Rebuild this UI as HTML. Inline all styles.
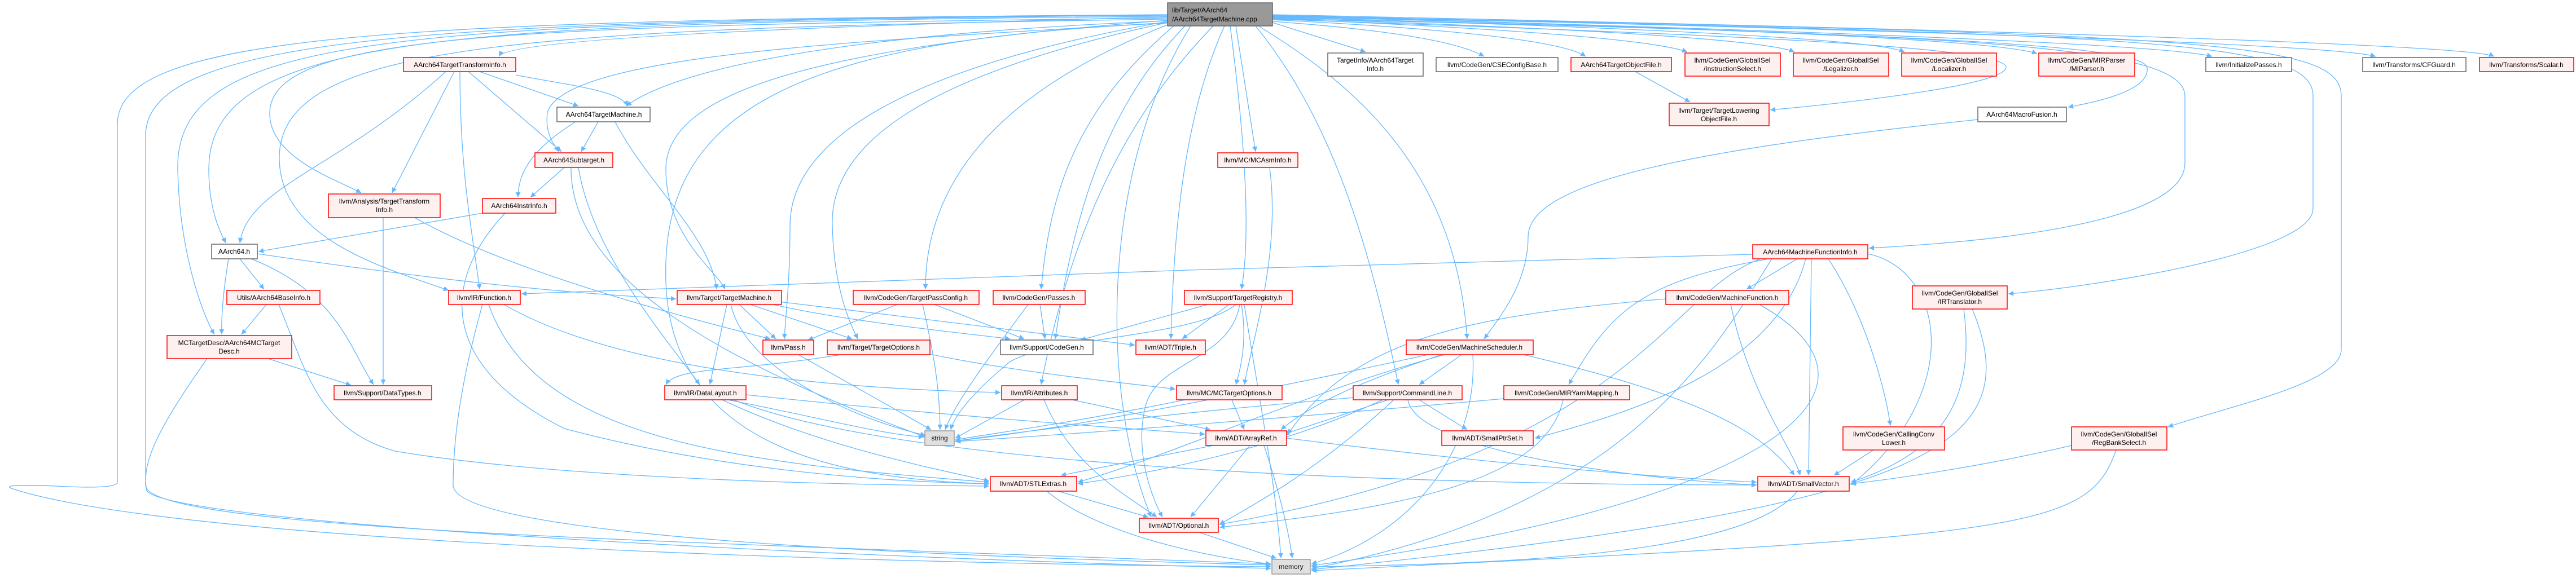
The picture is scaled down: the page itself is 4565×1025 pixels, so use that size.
<!DOCTYPE html>
<html><head><meta charset="utf-8"><style>
html,body{margin:0;padding:0;background:#fff;}
svg{display:block;}
text{font-family:"Liberation Sans",Arial,sans-serif;font-size:12px;fill:#000;text-anchor:middle;}
.r{fill:#fff0f0;stroke:#f00;stroke-width:1.5;}
.g{fill:#fff;stroke:#666;stroke-width:1.5;}
.s{fill:#e0e0e0;stroke:#999;stroke-width:1.5;}
.e path{fill:none;stroke:#63b8ff;stroke-width:1.3;}
</style></head><body>
<svg width="4565" height="1025" viewBox="0 0 4565 1025" xmlns="http://www.w3.org/2000/svg">
<defs><marker id="a" viewBox="0 0 10 10" refX="10" refY="5" markerWidth="10" markerHeight="9" markerUnits="userSpaceOnUse" orient="auto"><path d="M0,0L10,5L0,10z" fill="#63b8ff"/></marker></defs>
<g class="e" marker-end="url(#a)">
<!-- main to left -->
<path marker-end="url(#a)" d="M2069,30 Q900,60 885,100"/>
<path marker-end="url(#a)" d="M2069,37 C1500,60 1200,120 1110,188"/>
<path marker-end="url(#a)" d="M2069,40 C1600,70 1000,90 970,200 C965,240 985,260 990,269"/>
<path marker-end="url(#a)" d="M2069,32 C900,45 480,60 478,200 C476,280 600,320 640,342"/>
<path marker-end="url(#a)" d="M2069,34 C900,50 495,80 495,280 C495,430 700,480 795,515"/>
<path marker-end="url(#a)" d="M2069,29 C800,40 370,60 370,300 C370,380 395,420 400,431"/>
<path marker-end="url(#a)" d="M2069,27 C700,40 310,60 315,300 C318,450 360,560 380,593"/>
<path marker-end="url(#a)" d="M2069,26 C700,35 208,60 208,220 L208,855 Q208,868 100,862 Q0,858 20,866 C300,960 1500,1000 2252,1005"/>
<path marker-end="url(#a)" d="M2069,27 C800,35 258,60 258,240 L258,860 C258,940 1200,960 2252,1000"/>
<path marker-end="url(#a)" d="M2069,36 C1500,80 1180,150 1180,300 C1180,420 1270,480 1285,513"/>
<path marker-end="url(#a)" d="M2069,38 C1600,120 1400,250 1400,400 C1400,500 1392,560 1390,601"/>
<path marker-end="url(#a)" d="M2069,40 C1650,130 1470,250 1475,400 C1478,520 1510,580 1520,601"/>
<path marker-end="url(#a)" d="M2069,44 C1800,150 1640,300 1640,513"/>
<path marker-end="url(#a)" d="M2080,46 C1900,200 1860,350 1845,513"/>
<path marker-end="url(#a)" d="M2100,46 C1950,200 1900,400 1870,601"/>
<path marker-end="url(#a)" d="M2069,41 C1400,70 1170,200 1180,500 C1190,800 1500,850 1753,858"/>
<path marker-end="url(#a)" d="M2110,46 C1950,300 1950,700 2040,917"/>
<path marker-end="url(#a)" d="M2190,46 L2225,269"/>
<path marker-end="url(#a)" d="M2180,46 C2200,200 2220,400 2200,513"/>
<path marker-end="url(#a)" d="M2170,46 C2100,200 2080,400 2075,601"/>
<path marker-end="url(#a)" d="M2150,46 C2000,200 1900,400 1845,682"/>
<path marker-end="url(#a)" d="M2230,46 C2400,150 2580,300 2600,601"/>
<path marker-end="url(#a)" d="M2225,46 C2350,200 2420,400 2478,682"/>
<!-- main to right -->
<path marker-end="url(#a)" d="M2255,40 L2420,92"/>
<path marker-end="url(#a)" d="M2255,38 Q2560,60 2630,100"/>
<path marker-end="url(#a)" d="M2255,35 Q2750,60 2810,100"/>
<path marker-end="url(#a)" d="M2255,33 Q2900,60 2990,92"/>
<path marker-end="url(#a)" d="M2255,32 Q3100,60 3180,92"/>
<path marker-end="url(#a)" d="M2255,30 Q3300,60 3375,92"/>
<path marker-end="url(#a)" d="M2255,29 Q3500,60 3610,95"/>
<path marker-end="url(#a)" d="M2255,28 Q3800,70 3920,100"/>
<path marker-end="url(#a)" d="M2255,27 Q4100,70 4210,100"/>
<path marker-end="url(#a)" d="M2255,26 Q4350,70 4420,100"/>
<path marker-end="url(#a)" d="M2255,31 C3400,60 3800,80 3805,120 C3810,160 3720,180 3665,190"/>
<path marker-end="url(#a)" d="M2255,34 C3000,60 3560,80 3555,120 C3550,150 3300,180 3137,195"/>
<path marker-end="url(#a)" d="M2255,33 C3500,60 3870,80 3872,170 L3872,290 C3870,400 3500,430 3312,440"/>
<path marker-end="url(#a)" d="M2255,29 C3800,60 4099,70 4099,170 L4099,370 C4099,450 3700,510 3559,521"/>
<path marker-end="url(#a)" d="M2255,28 C3900,60 4149,70 4149,170 L4149,620 C4149,680 3950,720 3842,757"/>
<!-- secondary -->
<path marker-end="url(#a)" d="M790,127 C600,300 440,330 425,431"/>
<path marker-end="url(#a)" d="M805,127 L695,342"/>
<path marker-end="url(#a)" d="M815,127 C815,300 835,400 850,513"/>
<path marker-end="url(#a)" d="M830,127 L995,269"/>
<path marker-end="url(#a)" d="M850,127 L1025,188"/>
<path marker-end="url(#a)" d="M914,133 C1000,150 1100,160 1112,188"/>
<path marker-end="url(#a)" d="M1060,216 L1030,269"/>
<path marker-end="url(#a)" d="M1020,216 C950,260 918,300 918,350"/>
<path marker-end="url(#a)" d="M1090,216 C1150,330 1260,420 1270,513"/>
<path marker-end="url(#a)" d="M1000,297 L940,350"/>
<path marker-end="url(#a)" d="M1012,297 C1010,500 1300,650 1640,775"/>
<path marker-end="url(#a)" d="M1025,297 C1050,450 1180,600 1240,682"/>
<path marker-end="url(#a)" d="M855,378 L458,446"/>
<path marker-end="url(#a)" d="M895,378 C780,500 780,650 1000,760 C1300,840 1600,855 1753,858"/>
<path marker-end="url(#a)" d="M679,386 L679,682"/>
<path marker-end="url(#a)" d="M735,386 C900,480 1200,560 1365,601"/>
<path marker-end="url(#a)" d="M425,459 L468,513"/>
<path marker-end="url(#a)" d="M405,459 C395,520 392,560 393,593"/>
<path marker-end="url(#a)" d="M445,459 C600,520 620,620 662,682"/>
<path marker-end="url(#a)" d="M456,450 C800,500 1000,520 1198,530"/>
<path marker-end="url(#a)" d="M472,540 L428,593"/>
<path marker-end="url(#a)" d="M494,540 C540,650 560,760 700,800 C1000,850 1500,860 1753,862"/>
<path marker-end="url(#a)" d="M475,636 L622,683"/>
<path marker-end="url(#a)" d="M367,636 C280,760 250,820 260,870 C300,930 1500,990 2252,1008"/>
<path marker-end="url(#a)" d="M855,540 C810,700 803,800 803,860 C803,960 1800,990 2252,1002"/>
<path marker-end="url(#a)" d="M893,540 C1100,660 1500,690 1773,696"/>
<path marker-end="url(#a)" d="M866,540 C950,780 1300,820 1753,855"/>
<path marker-end="url(#a)" d="M1310,540 L1375,601"/>
<path marker-end="url(#a)" d="M1330,540 L1510,601"/>
<path marker-end="url(#a)" d="M1288,540 L1258,682"/>
<path marker-end="url(#a)" d="M1295,540 C1320,650 1500,740 1640,772"/>
<path marker-end="url(#a)" d="M1370,540 C1500,570 1700,590 1790,601"/>
<path marker-end="url(#a)" d="M1380,535 C1600,560 1900,600 2011,612"/>
<path marker-end="url(#a)" d="M1590,540 L1432,603"/>
<path marker-end="url(#a)" d="M1635,540 C1660,650 1665,700 1666,762"/>
<path marker-end="url(#a)" d="M1656,540 L1815,601"/>
<path marker-end="url(#a)" d="M1843,540 L1852,601"/>
<path marker-end="url(#a)" d="M1822,540 C1740,650 1690,720 1675,762"/>
<path marker-end="url(#a)" d="M2140,540 L1915,603"/>
<path marker-end="url(#a)" d="M2178,540 L2095,601"/>
<path marker-end="url(#a)" d="M2200,540 C2210,600 2200,650 2190,682"/>
<path marker-end="url(#a)" d="M2197,540 C2180,640 2050,640 2030,720 C2010,800 2040,880 2060,917"/>
<path marker-end="url(#a)" d="M2205,540 C2230,700 2260,850 2270,990"/>
<path marker-end="url(#a)" d="M2190,540 C2120,600 1820,600 1780,650 C1720,700 1690,740 1685,762"/>
<path marker-end="url(#a)" d="M1415,629 L1650,762"/>
<path marker-end="url(#a)" d="M1648,628 C1800,660 2000,680 2083,690"/>
<path marker-end="url(#a)" d="M1490,629 C1300,660 1200,650 1180,682"/>
<path marker-end="url(#a)" d="M1290,709 C1450,740 1560,770 1637,775"/>
<path marker-end="url(#a)" d="M1322,700 C1700,740 2000,760 2135,770"/>
<path marker-end="url(#a)" d="M1280,709 C1450,790 1650,830 1753,853"/>
<path marker-end="url(#a)" d="M1300,709 C1600,830 2500,860 3113,860"/>
<path marker-end="url(#a)" d="M1815,709 L1693,777"/>
<path marker-end="url(#a)" d="M1900,709 L2145,762"/>
<path marker-end="url(#a)" d="M1850,709 C1900,830 2000,880 2050,917"/>
<path marker-end="url(#a)" d="M2100,709 C1900,750 1750,770 1693,780"/>
<path marker-end="url(#a)" d="M2183,709 L2205,762"/>
<path marker-end="url(#a)" d="M2150,790 L1880,843"/>
<path marker-end="url(#a)" d="M2215,790 L2110,917"/>
<path marker-end="url(#a)" d="M2280,777 C2700,830 3000,850 3113,855"/>
<path marker-end="url(#a)" d="M2240,790 C2270,880 2285,950 2290,990"/>
<path marker-end="url(#a)" d="M1875,871 L2035,917"/>
<path marker-end="url(#a)" d="M1855,871 C1950,950 2150,990 2252,1000"/>
<path marker-end="url(#a)" d="M2125,944 L2262,990"/>
<path marker-end="url(#a)" d="M3185,871 C3100,980 2700,1000 2324,1005"/>
<path marker-end="url(#a)" d="M3185,459 L3095,513"/>
<path marker-end="url(#a)" d="M3210,459 L3205,843"/>
<path marker-end="url(#a)" d="M3106,451 C2500,465 1400,500 924,521"/>
<path marker-end="url(#a)" d="M3130,460 C2900,500 2850,560 2780,682"/>
<path marker-end="url(#a)" d="M3240,459 C3300,550 3340,680 3350,755"/>
<path marker-end="url(#a)" d="M3120,459 C2950,520 2900,800 2161,930"/>
<path marker-end="url(#a)" d="M3140,459 C3050,600 2900,900 2324,1008"/>
<path marker-end="url(#a)" d="M3310,450 C3450,480 3480,700 3280,860"/>
<path marker-end="url(#a)" d="M3200,459 C3150,650 2900,730 2720,777"/>
<path marker-end="url(#a)" d="M3067,540 C3100,700 3180,800 3190,843"/>
<path marker-end="url(#a)" d="M2952,530 C2600,560 2400,600 2282,770"/>
<path marker-end="url(#a)" d="M3118,540 C3400,700 3100,900 2324,1003"/>
<path marker-end="url(#a)" d="M2590,629 L2515,682"/>
<path marker-end="url(#a)" d="M2700,629 C3000,700 3120,760 3180,843"/>
<path marker-end="url(#a)" d="M2530,629 C2300,680 1900,760 1693,782"/>
<path marker-end="url(#a)" d="M2610,629 C2620,800 2500,950 2324,1000"/>
<path marker-end="url(#a)" d="M2560,629 C2300,700 2100,800 1910,855"/>
<path marker-end="url(#a)" d="M2555,629 C2400,680 2320,720 2270,762"/>
<path marker-end="url(#a)" d="M2515,709 L2600,762"/>
<path marker-end="url(#a)" d="M2495,709 C2510,800 2900,850 3113,860"/>
<path marker-end="url(#a)" d="M2400,705 C2100,730 1850,760 1693,782"/>
<path marker-end="url(#a)" d="M2450,709 C2300,780 2100,830 1910,858"/>
<path marker-end="url(#a)" d="M2460,709 L2275,770"/>
<path marker-end="url(#a)" d="M2470,709 C2350,820 2250,880 2161,930"/>
<path marker-end="url(#a)" d="M2770,709 C2740,850 2500,900 2161,935"/>
<path marker-end="url(#a)" d="M2665,707 C2300,740 1900,770 1693,783"/>
<path marker-end="url(#a)" d="M3320,798 L3250,843"/>
<path marker-end="url(#a)" d="M3480,548 C3500,700 3450,800 3280,855"/>
<path marker-end="url(#a)" d="M3495,548 C3600,800 3400,900 2324,1010"/>
<path marker-end="url(#a)" d="M3671,790 C3500,830 3350,850 3280,858"/>
<path marker-end="url(#a)" d="M3750,798 C3700,940 3600,950 2324,1012"/>
<path marker-end="url(#a)" d="M3505,212 C2950,270 2708,330 2708,420 C2708,500 2660,560 2630,601"/>
<path marker-end="url(#a)" d="M2898,127 L2995,181"/>
<path marker-end="url(#a)" d="M2250,297 C2270,450 2220,600 2205,682"/>
</g>
<!-- nodes -->
<rect x="2069" y="5" width="186" height="41" fill="#999" stroke="#666" stroke-width="1.5"/>
<text x="2077" y="22" style="text-anchor:start">lib/Target/AArch64</text><text x="2077" y="38" style="text-anchor:start">/AArch64TargetMachine.cpp</text>

<rect class="r" x="715" y="102" width="199" height="25"/><text x="815" y="119">AArch64TargetTransformInfo.h</text>
<rect class="g" x="987" y="190" width="165" height="26"/><text x="1070" y="207">AArch64TargetMachine.h</text>
<rect class="r" x="948" y="271" width="138" height="26"/><text x="1017" y="288">AArch64Subtarget.h</text>
<rect class="r" x="582" y="344" width="198" height="42"/><text x="681" y="361">llvm/Analysis/TargetTransform</text><text x="681" y="376">Info.h</text>
<rect class="r" x="855" y="352" width="130" height="26"/><text x="920" y="369">AArch64InstrInfo.h</text>
<rect class="g" x="375" y="433" width="81" height="26"/><text x="415" y="450">AArch64.h</text>
<rect class="r" x="402" y="515" width="165" height="25"/><text x="485" y="532">Utils/AArch64BaseInfo.h</text>
<rect class="r" x="795" y="515" width="127" height="25"/><text x="858" y="532">llvm/IR/Function.h</text>
<rect class="r" x="296" y="595" width="221" height="41"/><text x="406" y="612">MCTargetDesc/AArch64MCTarget</text><text x="406" y="627">Desc.h</text>
<rect class="r" x="592" y="684" width="173" height="25"/><text x="678" y="701">llvm/Support/DataTypes.h</text>
<rect class="r" x="2158" y="271" width="142" height="26"/><text x="2229" y="288">llvm/MC/MCAsmInfo.h</text>
<rect class="r" x="1200" y="515" width="185" height="25"/><text x="1292" y="532">llvm/Target/TargetMachine.h</text>
<rect class="r" x="1512" y="515" width="223" height="25"/><text x="1623" y="532">llvm/CodeGen/TargetPassConfig.h</text>
<rect class="r" x="1760" y="515" width="163" height="25"/><text x="1841" y="532">llvm/CodeGen/Passes.h</text>
<rect class="r" x="2099" y="515" width="191" height="25"/><text x="2194" y="532">llvm/Support/TargetRegistry.h</text>
<rect class="r" x="1352" y="603" width="90" height="26"/><text x="1397" y="620">llvm/Pass.h</text>
<rect class="r" x="1466" y="603" width="182" height="26"/><text x="1557" y="620">llvm/Target/TargetOptions.h</text>
<rect class="g" x="1773" y="603" width="164" height="26"/><text x="1855" y="620">llvm/Support/CodeGen.h</text>
<rect class="r" x="2013" y="603" width="123" height="26"/><text x="2074" y="620">llvm/ADT/Triple.h</text>
<rect class="r" x="1178" y="684" width="144" height="25"/><text x="1250" y="701">llvm/IR/DataLayout.h</text>
<rect class="r" x="1775" y="684" width="134" height="25"/><text x="1842" y="701">llvm/IR/Attributes.h</text>
<rect class="r" x="2085" y="684" width="187" height="25"/><text x="2178" y="701">llvm/MC/MCTargetOptions.h</text>
<rect class="s" x="1639" y="764" width="52" height="26"/><text x="1665" y="781">string</text>
<rect class="r" x="2137" y="764" width="143" height="26"/><text x="2208" y="781">llvm/ADT/ArrayRef.h</text>
<rect class="r" x="1755" y="845" width="153" height="26"/><text x="1831" y="862">llvm/ADT/STLExtras.h</text>
<rect class="r" x="2019" y="919" width="140" height="25"/><text x="2089" y="936">llvm/ADT/Optional.h</text>
<rect class="s" x="2254" y="992" width="68" height="26"/><text x="2288" y="1009">memory</text>
<rect class="g" x="2353" y="94" width="169" height="41"/><text x="2437" y="111">TargetInfo/AArch64Target</text><text x="2437" y="126">Info.h</text>
<rect class="g" x="2545" y="102" width="216" height="25"/><text x="2653" y="119">llvm/CodeGen/CSEConfigBase.h</text>
<rect class="r" x="2784" y="102" width="178" height="25"/><text x="2873" y="119">AArch64TargetObjectFile.h</text>
<rect class="r" x="2986" y="94" width="169" height="41"/><text x="3070" y="111">llvm/CodeGen/GlobalISel</text><text x="3070" y="126">/InstructionSelect.h</text>
<rect class="r" x="3178" y="94" width="169" height="41"/><text x="3262" y="111">llvm/CodeGen/GlobalISel</text><text x="3262" y="126">/Legalizer.h</text>
<rect class="r" x="3370" y="94" width="168" height="41"/><text x="3454" y="111">llvm/CodeGen/GlobalISel</text><text x="3454" y="126">/Localizer.h</text>
<rect class="r" x="3613" y="94" width="170" height="41"/><text x="3698" y="111">llvm/CodeGen/MIRParser</text><text x="3698" y="126">/MIParser.h</text>
<rect class="g" x="3909" y="102" width="152" height="25"/><text x="3985" y="119">llvm/InitializePasses.h</text>
<rect class="g" x="4187" y="102" width="183" height="25"/><text x="4278" y="119">llvm/Transforms/CFGuard.h</text>
<rect class="r" x="4394" y="102" width="167" height="25"/><text x="4477" y="119">llvm/Transforms/Scalar.h</text>
<rect class="g" x="3505" y="190" width="157" height="26"/><text x="3583" y="207">AArch64MacroFusion.h</text>
<rect class="r" x="2958" y="183" width="177" height="40"/><text x="3046" y="200">llvm/Target/TargetLowering</text><text x="3046" y="215">ObjectFile.h</text>
<rect class="r" x="3106" y="434" width="204" height="25"/><text x="3208" y="451">AArch64MachineFunctionInfo.h</text>
<rect class="r" x="2952" y="515" width="218" height="25"/><text x="3061" y="532">llvm/CodeGen/MachineFunction.h</text>
<rect class="r" x="3389" y="507" width="168" height="41"/><text x="3473" y="524">llvm/CodeGen/GlobalISel</text><text x="3473" y="539">/IRTranslator.h</text>
<rect class="r" x="2492" y="603" width="225" height="26"/><text x="2604" y="620">llvm/CodeGen/MachineScheduler.h</text>
<rect class="r" x="2398" y="684" width="193" height="25"/><text x="2494" y="701">llvm/Support/CommandLine.h</text>
<rect class="r" x="2665" y="684" width="223" height="25"/><text x="2776" y="701">llvm/CodeGen/MIRYamlMapping.h</text>
<rect class="r" x="2555" y="764" width="162" height="26"/><text x="2636" y="781">llvm/ADT/SmallPtrSet.h</text>
<rect class="r" x="3266" y="757" width="180" height="41"/><text x="3356" y="774">llvm/CodeGen/CallingConv</text><text x="3356" y="789">Lower.h</text>
<rect class="r" x="3115" y="845" width="162" height="26"/><text x="3196" y="862">llvm/ADT/SmallVector.h</text>
<rect class="r" x="3671" y="757" width="169" height="41"/><text x="3755" y="774">llvm/CodeGen/GlobalISel</text><text x="3755" y="789">/RegBankSelect.h</text>
</svg>
</body></html>
